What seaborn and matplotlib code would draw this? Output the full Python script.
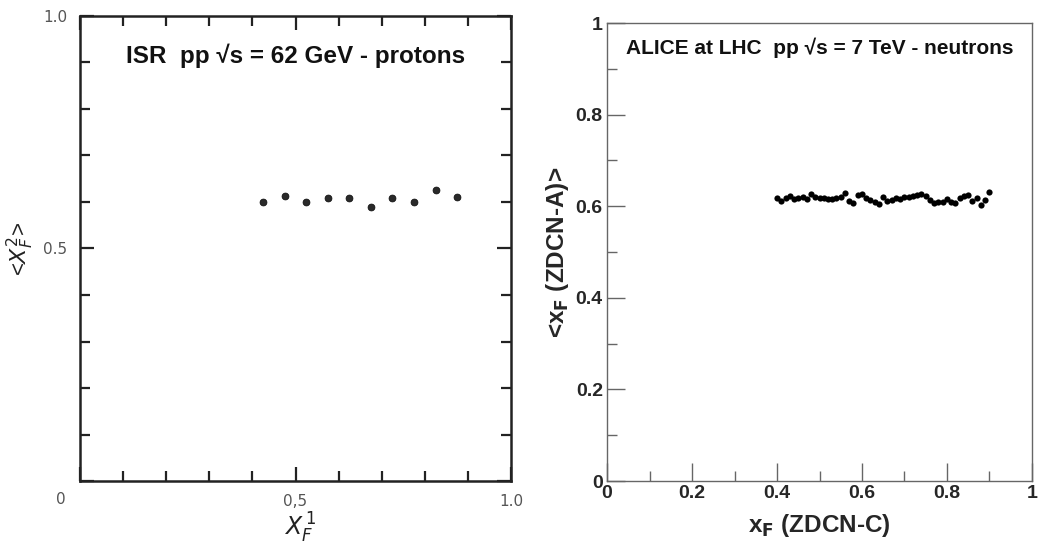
import numpy as np
import pandas as pd
import matplotlib.pyplot as plt
import seaborn as sns
from matplotlib.ticker import MultipleLocator

# ISR pp sqrt(s)=62 GeV, protons
isr_x = [0.425, 0.475, 0.525, 0.575, 0.625, 0.675, 0.725, 0.775, 0.825, 0.875]
isr_y = [0.600, 0.612, 0.599, 0.609, 0.609, 0.589, 0.609, 0.599, 0.625, 0.610]

# ALICE pp sqrt(s)=7 TeV, neutrons
alice_x = [round(0.40 + 0.01 * i, 2) for i in range(51)]
alice_y = [0.617, 0.611, 0.618, 0.622, 0.615, 0.618, 0.620, 0.616, 0.626, 0.621,
           0.617, 0.619, 0.616, 0.615, 0.618, 0.620, 0.629, 0.612, 0.606, 0.624,
           0.626, 0.617, 0.613, 0.610, 0.604, 0.621, 0.611, 0.613, 0.618, 0.616,
           0.620, 0.621, 0.622, 0.624, 0.626, 0.622, 0.613, 0.608, 0.609, 0.610,
           0.615, 0.610, 0.606, 0.618, 0.622, 0.624, 0.612, 0.617, 0.603, 0.613,
           0.630]

sns.set_theme(style='white')
plt.rcParams['font.family'] = ['Liberation Sans', 'DejaVu Sans']
plt.rcParams['mathtext.fontset'] = 'dejavusans'

fig = plt.figure(figsize=(10.38, 5.44), dpi=100)
ax1 = fig.add_axes([0.0771, 0.1158, 0.4152, 0.8548])
ax2 = fig.add_axes([0.5848, 0.1158, 0.4094, 0.8419])

# ---- left panel (old ISR scan) ----
isr = pd.DataFrame({'x': isr_x, 'y': isr_y})
sns.scatterplot(data=isr, x='x', y='y', ax=ax1, color='#2a2a2a', s=24,
                edgecolor='#111111', linewidth=0.6, legend=False)
ax1.set_xlim(0, 1.0)
ax1.set_ylim(0, 1.0)
for sp in ax1.spines.values():
    sp.set_color('#222222')
    sp.set_linewidth(1.8)
ax1.xaxis.set_major_locator(MultipleLocator(0.5))
ax1.xaxis.set_minor_locator(MultipleLocator(0.1))
ax1.yaxis.set_major_locator(MultipleLocator(0.5))
ax1.yaxis.set_minor_locator(MultipleLocator(0.1))
ax1.tick_params(which='both', direction='in', top=True, right=True,
                bottom=True, left=True, color='#222222', width=1.6)
ax1.tick_params(which='major', length=10, labelsize=11, labelcolor='#555555', pad=9)
ax1.tick_params(which='minor', length=7)
ax1.set_xticks([0, 0.5, 1.0])
ax1.set_xticklabels(['', '0,5', '1.0'], family='DejaVu Sans')
ax1.set_yticks([0, 0.5, 1.0])
ax1.set_yticklabels(['', '0.5', '1.0'], family='DejaVu Sans')
ax1.text(-0.045, -0.04, '0', transform=ax1.transAxes, ha='center', va='center',
         fontsize=11, color='#555555', family='DejaVu Sans')
ax1.set_xlabel(r'$X_F^{\,1}$', fontsize=17, color='#222222')
ax1.xaxis.set_label_coords(0.51, -0.065)
ax1.set_ylabel(r'<$X_F^2$>', fontsize=16, color='#222222')
ax1.yaxis.set_label_coords(-0.102, 0.5)
ax1.text(0.5, 0.915, 'ISR  pp \u221as = 62 GeV - protons', transform=ax1.transAxes,
         ha='center', va='center', fontsize=17.5, fontweight='bold', color='#111111')

# ---- right panel (ALICE) ----
alice = pd.DataFrame({'x': alice_x, 'y': alice_y})
sns.scatterplot(data=alice, x='x', y='y', ax=ax2, color='black', s=20,
                edgecolor='black', linewidth=0, legend=False)
ax2.set_xlim(0, 1)
ax2.set_ylim(0, 1)
for sp in ax2.spines.values():
    sp.set_color('#666666')
    sp.set_linewidth(1.0)
ax2.xaxis.set_major_locator(MultipleLocator(0.2))
ax2.xaxis.set_minor_locator(MultipleLocator(0.1))
ax2.yaxis.set_major_locator(MultipleLocator(0.2))
ax2.yaxis.set_minor_locator(MultipleLocator(0.1))
ax2.tick_params(which='both', direction='in', bottom=True, left=True,
                top=False, right=False, color='#666666', width=1.0)
ax2.tick_params(which='major', length=13, labelsize=14, pad=3)
ax2.tick_params(which='minor', length=7)


def short_fmt(v, p):
    if np.isclose(v, 0):
        return '0'
    if np.isclose(v, 1):
        return '1'
    return f'{v:.1f}'


ax2.xaxis.set_major_formatter(short_fmt)
ax2.yaxis.set_major_formatter(short_fmt)
for lbl in ax2.get_xticklabels() + ax2.get_yticklabels():
    lbl.set_fontweight('bold')
ax2.set_xlabel(r'x$_\mathbf{F}$ (ZDCN-C)', fontsize=17.5, fontweight='bold')
ax2.xaxis.set_label_coords(0.5, -0.068)
ax2.set_ylabel(r'<x$_\mathbf{F}$ (ZDCN-A)>', fontsize=17.5, fontweight='bold')
ax2.yaxis.set_label_coords(-0.085, 0.5)
ax2.text(0.5, 0.945, 'ALICE at LHC  pp \u221as = 7 TeV - neutrons', transform=ax2.transAxes,
         ha='center', va='center', fontsize=15, fontweight='bold', color='#111111')

fig.savefig('out.png', dpi=100)
